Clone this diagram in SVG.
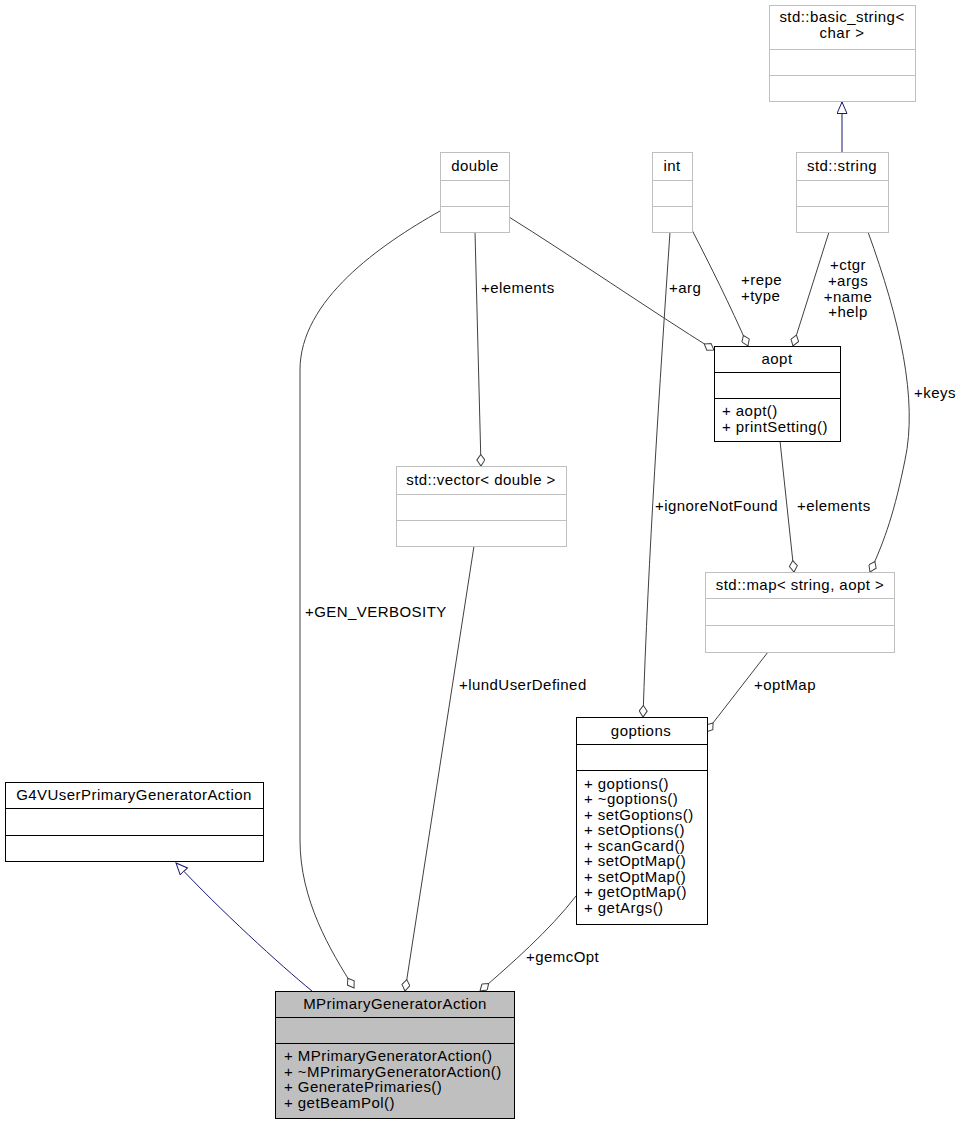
<svg xmlns="http://www.w3.org/2000/svg" width="963" height="1125" viewBox="0 0 963 1125">
<style>
text{font-family:"Liberation Sans",Arial,sans-serif;font-size:15px;letter-spacing:0.45px;fill:#000}
.c{text-anchor:middle}
.g{fill:#fff;stroke:#bfbfbf;stroke-width:1}
.b{fill:#fff;stroke:#000;stroke-width:1}
.sel{fill:#bfbfbf;stroke:#000;stroke-width:1}
.e{fill:none;stroke:#404040;stroke-width:1}
.i{fill:none;stroke:#191970;stroke-width:1}
</style>
<defs>
<marker id="dia" markerWidth="13" markerHeight="9" refX="12" refY="4.5" orient="auto" markerUnits="userSpaceOnUse">
<path d="M0.5,4.5 L6,0.5 L12,4.5 L6,8.5 z" fill="#fff" stroke="#404040"/>
</marker>
<marker id="tri" markerWidth="13" markerHeight="12" refX="12" refY="5.5" orient="auto" markerUnits="userSpaceOnUse">
<path d="M0.5,0.5 L12,5.5 L0.5,10.5 z" fill="#fff" stroke="#191970"/>
</marker>
</defs>
<g id="edges">
<path class="i" d="M842,152 L842,102" marker-end="url(#tri)"/>
<path class="i" d="M312,991 C280,965 220,910 176,863" marker-end="url(#tri)"/>
<path class="e" d="M440,211 C380,245 300,300 300,370 L300,840 C300,900 330,950 354,988" marker-end="url(#dia)"/>
<path class="e" d="M475,232 L481,466" marker-end="url(#dia)"/>
<path class="e" d="M509,217 C570,255 650,310 714,350" marker-end="url(#dia)"/>
<path class="e" d="M692,230 C710,265 730,305 748,346" marker-end="url(#dia)"/>
<path class="e" d="M670,232 C660,380 648,560 643,717" marker-end="url(#dia)"/>
<path class="e" d="M829,232 L793,346" marker-end="url(#dia)"/>
<path class="e" d="M868,232 C900,320 918,400 905,460 C895,510 885,540 870,572" marker-end="url(#dia)"/>
<path class="e" d="M780,441 L794,572" marker-end="url(#dia)"/>
<path class="e" d="M768,652 L706,732" marker-end="url(#dia)"/>
<path class="e" d="M474,546 L405,991" marker-end="url(#dia)"/>
<path class="e" d="M576,896 C550,930 510,965 480,991" marker-end="url(#dia)"/>
<text x="305" y="617">+GEN_VERBOSITY</text>
<text x="459" y="690">+lundUserDefined</text>
<text x="526" y="962">+gemcOpt</text>
<text x="481" y="293">+elements</text>
<text x="669" y="293">+arg</text>
<text x="741" y="285">+repe</text>
<text x="741" y="301">+type</text>
<text class="c" x="848" y="270">+ctgr</text>
<text class="c" x="848" y="286">+args</text>
<text class="c" x="848" y="302">+name</text>
<text class="c" x="848" y="317">+help</text>
<text x="914" y="398">+keys</text>
<text x="655" y="511">+ignoreNotFound</text>
<text x="797" y="511">+elements</text>
<text x="754" y="690">+optMap</text>
</g>
<g id="basic_string">
<rect class="g" x="769.5" y="5.5" width="146" height="96"/>
<line class="g" x1="769.5" y1="49.5" x2="915.5" y2="49.5"/>
<line class="g" x1="769.5" y1="75.5" x2="915.5" y2="75.5"/>
<text class="c" x="842" y="22">std::basic_string&lt;</text>
<text class="c" x="842" y="38">char &gt;</text>
</g>
<g id="double">
<rect class="g" x="440.5" y="152.5" width="69" height="80"/>
<line class="g" x1="440.5" y1="180.5" x2="509.5" y2="180.5"/>
<line class="g" x1="440.5" y1="206.5" x2="509.5" y2="206.5"/>
<text class="c" x="475" y="171">double</text>
</g>
<g id="int">
<rect class="g" x="652.5" y="152.5" width="40" height="80"/>
<line class="g" x1="652.5" y1="180.5" x2="692.5" y2="180.5"/>
<line class="g" x1="652.5" y1="206.5" x2="692.5" y2="206.5"/>
<text class="c" x="672" y="171">int</text>
</g>
<g id="string">
<rect class="g" x="796.5" y="152.5" width="92" height="80"/>
<line class="g" x1="796.5" y1="180.5" x2="888.5" y2="180.5"/>
<line class="g" x1="796.5" y1="206.5" x2="888.5" y2="206.5"/>
<text class="c" x="842" y="171">std::string</text>
</g>
<g id="aopt">
<rect class="b" x="714.5" y="346.5" width="126" height="95"/>
<line class="b" x1="714.5" y1="372.5" x2="840.5" y2="372.5"/>
<line class="b" x1="714.5" y1="398.5" x2="840.5" y2="398.5"/>
<text class="c" x="777" y="364">aopt</text>
<text x="722" y="416">+ aopt()</text>
<text x="722" y="432">+ printSetting()</text>
</g>
<g id="vector">
<rect class="g" x="396.5" y="466.5" width="170" height="80"/>
<line class="g" x1="396.5" y1="494.5" x2="566.5" y2="494.5"/>
<line class="g" x1="396.5" y1="520.5" x2="566.5" y2="520.5"/>
<text class="c" x="481" y="485">std::vector&lt; double &gt;</text>
</g>
<g id="map">
<rect class="g" x="705.5" y="572.5" width="189" height="80"/>
<line class="g" x1="705.5" y1="598.5" x2="894.5" y2="598.5"/>
<line class="g" x1="705.5" y1="625.5" x2="894.5" y2="625.5"/>
<text class="c" x="800" y="590">std::map&lt; string, aopt &gt;</text>
</g>
<g id="goptions">
<rect class="b" x="576.5" y="717.5" width="131" height="207"/>
<line class="b" x1="576.5" y1="744.5" x2="707.5" y2="744.5"/>
<line class="b" x1="576.5" y1="770.5" x2="707.5" y2="770.5"/>
<text class="c" x="641" y="736">goptions</text>
<text x="584" y="789">+ goptions()</text>
<text x="584" y="804">+ ~goptions()</text>
<text x="584" y="820">+ setGoptions()</text>
<text x="584" y="835">+ setOptions()</text>
<text x="584" y="851">+ scanGcard()</text>
<text x="584" y="866">+ setOptMap()</text>
<text x="584" y="882">+ setOptMap()</text>
<text x="584" y="897">+ getOptMap()</text>
<text x="584" y="913">+ getArgs()</text>
</g>
<g id="G4V">
<rect class="b" x="5.5" y="782.5" width="258" height="79"/>
<line class="b" x1="5.5" y1="808.5" x2="263.5" y2="808.5"/>
<line class="b" x1="5.5" y1="835.5" x2="263.5" y2="835.5"/>
<text class="c" x="134" y="800">G4VUserPrimaryGeneratorAction</text>
</g>
<g id="MPrimary">
<rect class="sel" x="275.5" y="991.5" width="239" height="127"/>
<line class="sel" x1="275.5" y1="1017.5" x2="514.5" y2="1017.5"/>
<line class="sel" x1="275.5" y1="1043.5" x2="514.5" y2="1043.5"/>
<text class="c" x="395" y="1009">MPrimaryGeneratorAction</text>
<text x="284" y="1061">+ MPrimaryGeneratorAction()</text>
<text x="284" y="1077">+ ~MPrimaryGeneratorAction()</text>
<text x="284" y="1092">+ GeneratePrimaries()</text>
<text x="284" y="1108">+ getBeamPol()</text>
</g>
</svg>
